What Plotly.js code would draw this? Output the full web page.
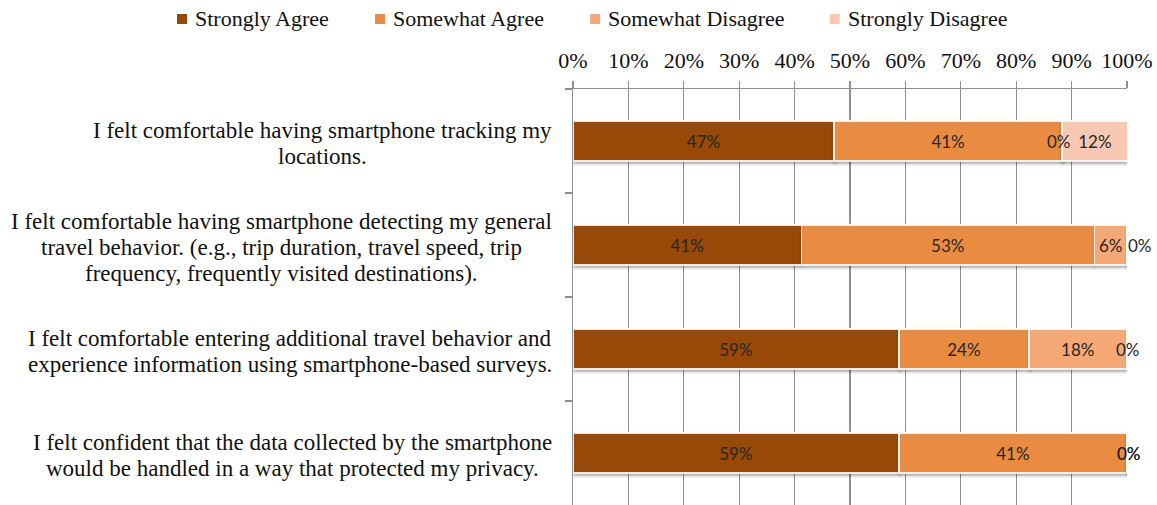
<!DOCTYPE html>
<html>
<head>
<meta charset="utf-8">
<script src="https://cdn.plot.ly/plotly-3.0.1.min.js"></script>
<style>
html,body{margin:0;padding:0;background:#fff}
#chart{width:1157px;height:505px}
#chart .trace.bars .point path{filter: drop-shadow(1px 2px 1.5px rgba(0,0,0,0.35));}
</style>
</head>
<body>
<div id="chart"></div>
<script>
// Statements (top to bottom)
const categories = [
  "I felt comfortable having smartphone tracking my<br>locations.",
  "I felt comfortable having smartphone detecting my general<br>travel behavior. (e.g., trip duration, travel speed, trip<br>frequency, frequently visited destinations).",
  "I felt comfortable entering additional travel behavior and<br>experience information using smartphone-based surveys.",
  "I felt confident that the data collected by the smartphone<br>would be handled in a way that protected my privacy."
];
const seriesNames = ["Strongly Agree", "Somewhat Agree", "Somewhat Disagree", "Strongly Disagree"];
const stronglyAgree     = [47.1, 41.2, 58.8, 58.8];
const somewhatAgree     = [41.2, 52.9, 23.5, 41.2];
const somewhatDisagree  = [0.0, 5.9, 17.6, 0.0];
const stronglyDisagree  = [11.8, 0.0, 0.0, 0.0];
const xTickVals   = [0,10,20,30,40,50,60,70,80,90,100];
const xTickLabels = ["0%","10%","20%","30%","40%","50%","60%","70%","80%","90%","100%"];

const seriesValues = [stronglyAgree, somewhatAgree, somewhatDisagree, stronglyDisagree];
const colors = ["#984807", "#E98C42", "#F6A977", "#F9C8B2"];

const W = 1157, H = 505;
const M = {l: 573, r: 30, t: 89, b: 0};
const plotW = W - M.l - M.r, plotH = H - M.t - M.b;
const pxToPaperX = px => (px - M.l) / plotW;
const pxToPaperY = py => (H - M.b - py) / plotH;

const serif = "'Liberation Serif', 'Times New Roman', serif";
const labelFont = {family: "Lato, 'Open Sans', sans-serif", size: 17, color: "#262626"};
const catFontSize = 23;
const catLineStep = 26;
const legendFontSize = 22;

const traces = seriesValues.map((vals, i) => ({
  type: "bar",
  orientation: "h",
  name: seriesNames[i],
  y: categories,
  x: vals,
  marker: {color: colors[i], line: {color: "rgba(255,255,255,0.85)", width: 1.5}},
  text: vals.map(v => v > 0 ? Math.round(v) + "%" : ""),
  textposition: "inside",
  insidetextanchor: "middle",
  textangle: 0,
  textfont: labelFont,
  hoverinfo: "name+x"
}));

const ctx = document.createElement("canvas").getContext("2d");

const annotations = [];
const shapes = [];

// legend row (single line, like the original)
ctx.font = legendFontSize + "px 'Liberation Serif'";
let lx = 177;
const ly = 19, sq = 10;
seriesNames.forEach((name, i) => {
  shapes.push({
    type: "rect", xref: "paper", yref: "paper", layer: "above",
    x0: pxToPaperX(lx), x1: pxToPaperX(lx + sq),
    y0: pxToPaperY(ly + sq / 2), y1: pxToPaperY(ly - sq / 2),
    fillcolor: colors[i], line: {width: 0}
  });
  annotations.push({
    x: pxToPaperX(lx + sq + 6), y: pxToPaperY(ly), xref: "paper", yref: "paper",
    text: name, showarrow: false, xanchor: "left", yanchor: "middle",
    font: {family: serif, size: legendFontSize, color: "#111"}
  });
  lx += sq + 7 + ctx.measureText(name).width + 46;
});

// category labels: multi-line, centred as a block ending near the axis
ctx.font = catFontSize + "px 'Liberation Serif'";
categories.forEach((cat, ci) => {
  let cum = 0;
  seriesValues.forEach((vals) => {
    const v = vals[ci];
    if (v === 0) {
      annotations.push({
        x: cum, y: cat, xref: "x", yref: "y",
        text: "0%", showarrow: false, xanchor: "center",
        xshift: cum >= 99.9 ? (ci === 1 ? 13 : 2) : -3,
        font: labelFont
      });
    }
    cum += v;
  });
  const lines = cat.split("<br>");
  const blockW = Math.max(...lines.map(l => ctx.measureText(l).width));
  lines.forEach((line, k) => {
    annotations.push({
      x: 0, y: cat, xref: "paper", yref: "y",
      text: line, showarrow: false, xanchor: "center", yanchor: "middle",
      xshift: -(21 + blockW / 2),
      yshift: ((lines.length - 1) / 2 - k) * catLineStep - 2,
      font: {family: serif, size: catFontSize, color: "#111"}
    });
  });
});

const layout = {
  width: W, height: H,
  margin: {l: M.l, r: M.r, t: M.t, b: M.b, pad: 0, autoexpand: false},
  paper_bgcolor: "#fff", plot_bgcolor: "#fff",
  barmode: "stack",
  bargap: 0.615,
  showlegend: false,
  xaxis: {
    side: "top", range: [0, 100], tickmode: "array", tickvals: xTickVals, ticktext: xTickLabels,
    showgrid: true, gridcolor: "#8f8f8f", gridwidth: 1.3,
    showline: true, linecolor: "#8f8f8f", linewidth: 1.5,
    ticks: "outside", ticklen: 7, tickcolor: "#8f8f8f", tickwidth: 1.3,
    ticklabelstandoff: 4,
    tickfont: {family: serif, size: 22, color: "#111"},
    zeroline: false, fixedrange: true
  },
  yaxis: {
    type: "category", autorange: "reversed",
    showticklabels: false, showgrid: false,
    showline: true, linecolor: "#8f8f8f", linewidth: 1.5,
    ticks: "outside", tickson: "boundaries", ticklen: 7, tickcolor: "#8f8f8f", tickwidth: 1.3,
    fixedrange: true
  },
  shapes: shapes,
  annotations: annotations
};

Plotly.newPlot("chart", traces, layout, {displayModeBar: false, staticPlot: true});
</script>
</body>
</html>
